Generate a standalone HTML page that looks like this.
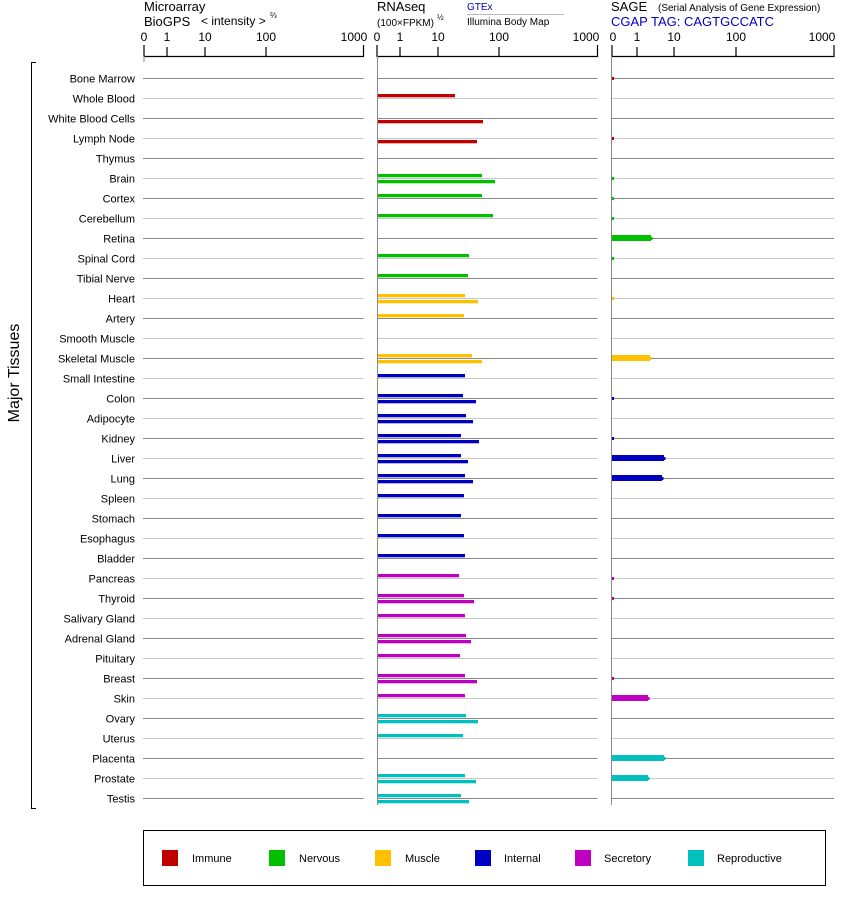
<!DOCTYPE html>
<html><head><meta charset="utf-8"><style>
body{margin:0;background:#fff;}
svg{display:block;font-family:"Liberation Sans",Arial,sans-serif;}
</style></head><body>
<svg width="842" height="900" xmlns="http://www.w3.org/2000/svg">
<rect width="842" height="900" fill="#fff"/>
<!-- headers -->
<g font-size="13" fill="#000">
<text x="144" y="11">Microarray</text>
<text x="144" y="26">BioGPS</text>
<text x="201" y="25" font-size="12">&lt; intensity &gt;</text>
<text x="270" y="18" font-size="8">⅔</text>
<text x="377" y="11">RNAseq</text>
<text x="377" y="26" font-size="10">(100×FPKM)</text>
<text x="437" y="20" font-size="8">½</text>
<text x="467" y="10" font-size="10" fill="#0000c0">GTEx</text>
<line x1="467" y1="14.5" x2="564" y2="14.5" stroke="#bbb"/>
<text x="467" y="25" font-size="10">Illumina Body Map</text>
<text x="611" y="11">SAGE</text>
<text x="658" y="11" font-size="10">(Serial Analysis of Gene Expression)</text>
<text x="611" y="26" fill="#0000c0">CGAP TAG: CAGTGCCATC</text>
</g>
<g font-size="12" fill="#000" text-anchor="middle">
<text x="144" y="41">0</text><text x="167" y="41">1</text><text x="205" y="41">10</text><text x="266" y="41">100</text><text x="354" y="41">1000</text>
<text x="377" y="41">0</text><text x="400" y="41">1</text><text x="438" y="41">10</text><text x="499" y="41">100</text><text x="586" y="41">1000</text>
<text x="613" y="41">0</text><text x="637" y="41">1</text><text x="674" y="41">10</text><text x="736" y="41">100</text><text x="822" y="41">1000</text>
</g>
<g stroke="#000" stroke-width="1.2" fill="none">
<path d="M144,45V56.5H363.5V45M167,47V56.5M205,47V56.5M266,47V56.5"/>
<path d="M377,45V56.5H597.5V45M400,47V56.5M438,47V56.5M499,47V56.5"/>
<path d="M612,45V56.5H834V45M637,47V56.5M674,47V56.5M736,47V56.5"/>
</g>
<line x1="144" y1="56" x2="144" y2="62" stroke="#888"/>
<line x1="377.5" y1="56" x2="377.5" y2="805" stroke="#888"/>
<line x1="611.5" y1="56" x2="611.5" y2="805" stroke="#888"/>
<!-- bracket -->
<path d="M36,62.5H31.5V808.5H36" stroke="#000" fill="none"/>
<text transform="translate(19,373) rotate(-90)" font-size="16" text-anchor="middle">Major Tissues</text>
<g id="rows"></g>
<!-- legend -->
<rect x="143.5" y="830.5" width="682" height="55" fill="none" stroke="#000"/>
<g font-size="11">
<rect x="162" y="850" width="16" height="16" fill="#c00000"/><text x="192" y="862">Immune</text>
<rect x="269" y="850" width="16" height="16" fill="#00c000"/><text x="299" y="862">Nervous</text>
<rect x="375" y="850" width="16" height="16" fill="#ffc000"/><text x="405" y="862">Muscle</text>
<rect x="475" y="850" width="16" height="16" fill="#0000c0"/><text x="504" y="862">Internal</text>
<rect x="575" y="850" width="16" height="16" fill="#c000c0"/><text x="604" y="862">Secretory</text>
<rect x="688" y="850" width="16" height="16" fill="#00c0c0"/><text x="717" y="862">Reproductive</text>
</g>
</svg>
<script>
var C={i:"#c00000",n:"#00c000",m:"#ffc000",t:"#0000c0",s:"#c000c0",r:"#00c0c0"};
var rows=[
["Bone Marrow","i",0,0,1],["Whole Blood","i",455,0,0],["White Blood Cells","i",0,483,0],["Lymph Node","i",0,477,1],["Thymus","i",0,0,0],
["Brain","n",482,495,1],["Cortex","n",482,0,1],["Cerebellum","n",493,0,1],["Retina","n",0,0,651],["Spinal Cord","n",469,0,1],["Tibial Nerve","n",468,0,0],
["Heart","m",465,478,1],["Artery","m",464,0,0],["Smooth Muscle","m",0,0,0],["Skeletal Muscle","m",472,482,650],
["Small Intestine","t",465,0,0],["Colon","t",463,476,1],["Adipocyte","t",466,473,0],["Kidney","t",461,479,1],["Liver","t",461,468,664],["Lung","t",465,473,662],["Spleen","t",464,0,0],["Stomach","t",461,0,0],["Esophagus","t",464,0,0],["Bladder","t",465,0,0],
["Pancreas","s",459,0,1],["Thyroid","s",464,474,1],["Salivary Gland","s",465,0,0],["Adrenal Gland","s",466,471,0],["Pituitary","s",460,0,0],["Breast","s",465,477,1],["Skin","s",465,0,648],
["Ovary","r",466,478,0],["Uterus","r",463,0,0],["Placenta","r",0,0,664],["Prostate","r",465,476,648],["Testis","r",461,469,0]];
var h="";
rows.forEach(function(r,i){
 var y=78+20*i+0.5, col=i%2?"#c8c8c8":"#888", c=C[r[1]];
 h+='<text x="135" y="'+(y+4)+'" font-size="11" text-anchor="end">'+r[0]+'</text>';
 h+='<line x1="143" y1="'+y+'" x2="363.5" y2="'+y+'" stroke="'+col+'"/>';
 h+='<line x1="378" y1="'+y+'" x2="597.5" y2="'+y+'" stroke="'+col+'"/>';
 h+='<line x1="612" y1="'+y+'" x2="834" y2="'+y+'" stroke="'+col+'"/>';
 if(r[2])h+='<rect x="378" y="'+(y-4.5)+'" width="'+(r[2]-378)+'" height="3.3" fill="'+c+'"/>';
 if(r[3])h+='<rect x="378" y="'+(y+1.5)+'" width="'+(r[3]-378)+'" height="3.3" fill="'+c+'"/>';
 if(r[4]==1)h+='<rect x="612" y="'+(y-1.5)+'" width="2" height="3" fill="'+c+'"/>';
 else if(r[4])h+='<rect x="612" y="'+(y-3.5)+'" width="'+(r[4]-612)+'" height="6" fill="'+c+'"/><rect x="'+r[4]+'" y="'+(y-1.5)+'" width="1.5" height="3" fill="'+c+'"/>';
});
document.getElementById("rows").innerHTML=h;
</script>
</body></html>
